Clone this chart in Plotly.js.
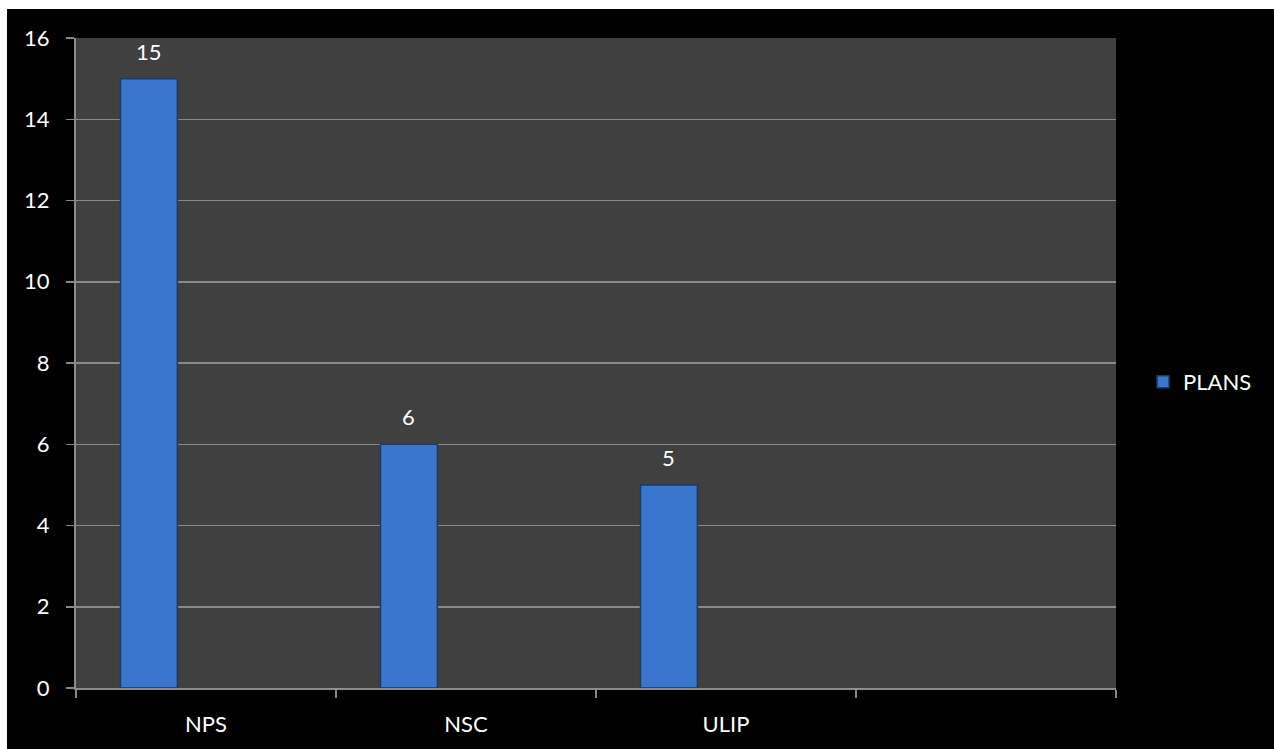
<!DOCTYPE html>
<html>
<head>
<meta charset="utf-8">
<script src="https://cdn.plot.ly/plotly-3.0.1.min.js"></script>
<style>
  html, body { margin: 0; padding: 0; background: #ffffff; overflow: hidden; }
  #chart { width: 1267px; height: 740px; margin-left: 7px; margin-top: 9px; }
</style>
</head>
<body>
<div id="chart"></div>
<script>
// Plan categories (last slot is an empty category on the axis)
const categories = ['NPS', 'NSC', 'ULIP', ' '];
const plans = [15, 6, 5, null];
const seriesName = 'PLANS';

// First of three clustered slots inside each category
const barWidth = 0.219;
const barOffset = -0.329;

const txtFont = { family: 'Lato, "Open Sans", sans-serif', size: 22, color: '#ffffff' };

const trace = {
  type: 'bar',
  name: seriesName,
  x: categories,
  y: plans,
  width: barWidth,
  offset: barOffset,
  marker: {
    color: '#3a76cc',
    line: { color: '#1b3a6a', width: 1.5 }
  },
  hoverinfo: 'x+y',
  showlegend: true
};

// Value labels above each bar, from the same values
const annotations = [];
plans.forEach((v, i) => {
  if (v === null) return;
  annotations.push({
    x: i + barOffset + barWidth / 2,
    y: v,
    xref: 'x',
    yref: 'y',
    text: String(v),
    showarrow: false,
    yanchor: 'bottom',
    yshift: 12,
    font: txtFont
  });
});

const layout = {
  width: 1267,
  height: 740,
  paper_bgcolor: '#000000',
  plot_bgcolor: '#404040',
  margin: { l: 69, r: 158, t: 29, b: 61 },
  font: txtFont,
  showlegend: true,
  legend: {
    x: 1.026, y: 0.471, xanchor: 'left', yanchor: 'middle',
    font: txtFont, bgcolor: 'rgba(0,0,0,0)',
    itemwidth: 30
  },
  xaxis: {
    type: 'category',
    categoryorder: 'array',
    categoryarray: categories,
    range: [-0.5, 3.5],
    tickson: 'boundaries',
    ticks: 'outside',
    ticklen: 8,
    tickwidth: 1.5,
    tickcolor: '#888888',
    showline: true,
    linecolor: '#8c8c8c',
    linewidth: 2,
    showgrid: false,
    ticklabelstandoff: 16,
    tickfont: txtFont,
    fixedrange: true
  },
  yaxis: {
    range: [0, 16],
    dtick: 2,
    tick0: 0,
    ticks: 'outside',
    ticklen: 8,
    tickwidth: 1.5,
    tickcolor: '#888888',
    showline: true,
    linecolor: '#8c8c8c',
    linewidth: 2,
    showgrid: true,
    gridcolor: '#8a8a8a',
    gridwidth: 1.5,
    zeroline: false,
    ticklabelstandoff: 12,
    tickfont: txtFont,
    fixedrange: true
  },
  annotations: annotations,
  bargap: 0
};

Plotly.newPlot('chart', [trace], layout, { displayModeBar: false, staticPlot: true });
</script>
</body>
</html>
